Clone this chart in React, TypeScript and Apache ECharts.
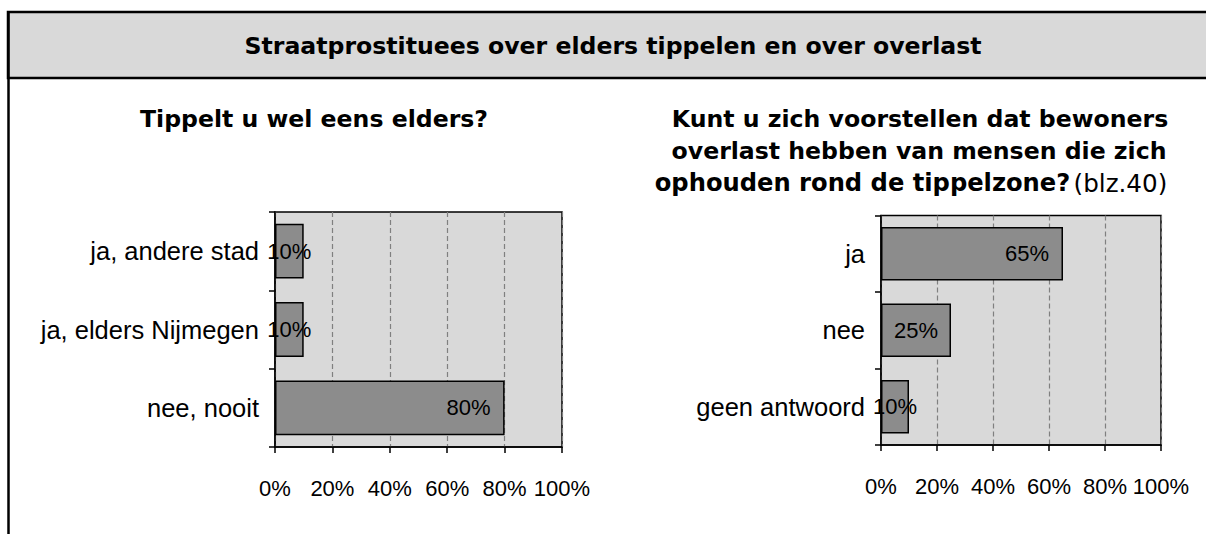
import React, { useEffect, useRef } from "react";
import * as echarts from "echarts";

const mainTitle = "Straatprostituees over elders tippelen en over overlast";
const leftTitle = "Tippelt u wel eens elders?";
const rightTitleLines = [
  "Kunt u zich voorstellen dat bewoners",
  "overlast hebben van mensen die zich",
  "ophouden rond de tippelzone?",
];
const rightTitleNote = "(blz.40)";

const leftCategories = ["ja, andere stad", "ja, elders Nijmegen", "nee, nooit"];
const leftValues = [10, 10, 80];

const rightCategories = ["ja", "nee", "geen antwoord"];
const rightValues = [65, 25, 10];

const xTicks = [0, 20, 40, 60, 80, 100];

const TITLE_FONT = "'DejaVu Sans', Verdana, sans-serif";
const LABEL_FONT = "'Liberation Sans', Arial, sans-serif";

function barData(values: number[]) {
  return values.map((v) => ({
    value: v,
    label:
      v >= 50
        ? { position: "insideRight", distance: 14 }
        : { position: "inside" },
  }));
}

export default function App() {
  const ref = useRef<HTMLDivElement>(null);

  useEffect(() => {
    if (!ref.current) return;
    const chart = echarts.init(ref.current, null, { renderer: "svg" });

    const xAxisBase = (gridIndex: number) => ({
      gridIndex,
      type: "value",
      min: xTicks[0],
      max: xTicks[xTicks.length - 1],
      interval: xTicks[1] - xTicks[0],
      axisLine: { show: true, lineStyle: { color: "#000", width: 1.5 } },
      axisTick: { show: true, length: 6, lineStyle: { color: "#000", width: 1.5 } },
      axisLabel: {
        formatter: "{value}%",
        fontFamily: LABEL_FONT,
        fontSize: 22,
        color: "#000",
        margin: 30,
      },
      splitLine: {
        show: true,
        lineStyle: { color: "#808080", type: [5, 3], width: 1.2 },
      },
    });

    const yAxisBase = (gridIndex: number, cats: string[]) => ({
      gridIndex,
      type: "category",
      data: cats,
      inverse: true,
      axisLine: { show: true, lineStyle: { color: "#000", width: 1.5 } },
      axisTick: { show: true, length: 6, lineStyle: { color: "#000", width: 1.5 } },
      axisLabel: {
        fontFamily: LABEL_FONT,
        fontSize: 25.5,
        color: "#000",
        margin: 16,
      },
      splitLine: { show: false },
    });

    const seriesBase = (idx: number, values: number[]) => ({
      type: "bar",
      xAxisIndex: idx,
      yAxisIndex: idx,
      data: barData(values),
      barCategoryGap: "30%",
      itemStyle: { color: "#8c8c8c", borderColor: "#000", borderWidth: 1.5 },
      label: {
        show: true,
        formatter: "{c}%",
        fontFamily: LABEL_FONT,
        fontSize: 22,
        color: "#000",
      },
    });

    const titleText = (text: string, x: number, y: number, size = 23.6) => ({
      type: "text",
      x,
      y,
      style: {
        text,
        fontFamily: TITLE_FONT,
        fontWeight: "bold",
        fontSize: size,
        fill: "#000",
        align: "center",
        verticalAlign: "middle",
      },
    });

    chart.setOption({
      animation: false,
      backgroundColor: "#fff",
      grid: [
        {
          left: 275,
          top: 212,
          width: 287,
          height: 235,
          show: true,
          backgroundColor: "#d9d9d9",
          borderColor: "#000",
          borderWidth: 1.5,
        },
        {
          left: 881,
          top: 215.5,
          width: 280,
          height: 229.5,
          show: true,
          backgroundColor: "#d9d9d9",
          borderColor: "#000",
          borderWidth: 1.5,
        },
      ],
      xAxis: [xAxisBase(0), xAxisBase(1)],
      yAxis: [yAxisBase(0, leftCategories), yAxisBase(1, rightCategories)],
      series: [seriesBase(0, leftValues), seriesBase(1, rightValues)],
      graphic: [
        {
          type: "rect",
          shape: { x: 8, y: 12, width: 1240, height: 66 },
          style: { fill: "#d9d9d9", stroke: "#000", lineWidth: 2.5 },
          z: 0,
        },
        {
          type: "line",
          shape: { x1: 8.5, y1: 12, x2: 8.5, y2: 540 },
          style: { stroke: "#000", lineWidth: 2.5 },
        },
        titleText(mainTitle, 613, 45.5),
        titleText(leftTitle, 314, 119),
        titleText(rightTitleLines[0], 920, 119),
        titleText(rightTitleLines[1], 919, 151),
        {
          type: "text",
          x: 911,
          y: 183,
          style: {
            text: "{b|" + rightTitleLines[2] + "} {n|" + rightTitleNote + "}",
            align: "center",
            verticalAlign: "middle",
            rich: {
              b: {
                fontFamily: TITLE_FONT,
                fontWeight: "bold",
                fontSize: 24.2,
                fill: "#000",
                color: "#000",
              },
              n: {
                fontFamily: TITLE_FONT,
                fontWeight: "normal",
                fontSize: 24.6,
                fill: "#000",
                color: "#000",
              },
            },
          },
        },
      ],
    });

    return () => chart.dispose();
  }, []);

  return (
    <div
      ref={ref}
      style={{ position: "absolute", left: 0, top: 0, width: 1206, height: 534 }}
    />
  );
}
